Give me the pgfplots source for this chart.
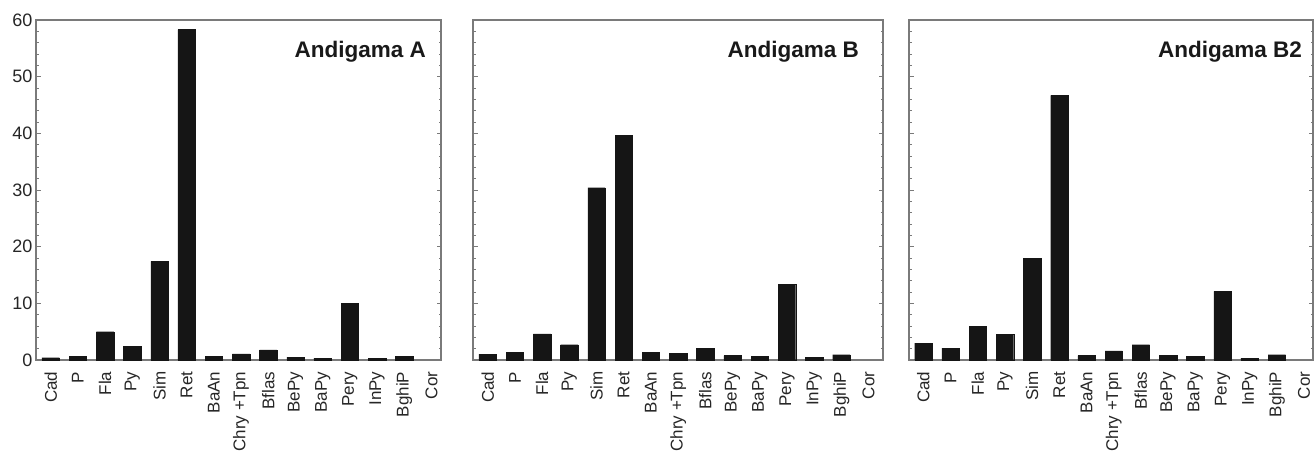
\documentclass[border=0pt]{standalone}
\usepackage{fontspec}
\setmainfont{Liberation Sans}
\usepackage{pgfplots}
\pgfplotsset{compat=1.18}
\definecolor{barc}{HTML}{151515}
\definecolor{axc}{HTML}{7A7A7A}
\pgfplotsset{
  panel/.style={
    scale only axis, height=340pt,
    ymin=0, ymax=60, ytick={0,10,...,60}, minor y tick num=4,
    xtick={0,...,14},
    xticklabels={Cad,P,Fla,Py,Sim,Ret,BaAn,Chry +Tpn,Bflas,BePy,BaPy,Pery,InPy,BghiP,Cor},
    x tick label style={rotate=90, anchor=east, inner sep=0pt, font=\fontsize{17}{19}\selectfont, text=black!85},
    xticklabel shift=7pt,
    y tick label style={font=\fontsize{18}{20}\selectfont, text=black!85},
    /pgf/number format/assume math mode=true,
    tick align=inside,
    axis line style={axc, line width=1.1pt},
    major tick length=4.5pt, minor tick length=2.5pt,
    every tick/.style={axc, line width=0.7pt},
    major x tick style={draw=none},
    ybar, bar width=0.64,
  },
}
\tikzset{
  ttl/.style={anchor=base east, inner sep=0pt, font=\bfseries\fontsize{22.5}{24}\selectfont, text=black!90},
  bars/.style={fill=barc, draw=barc, line width=0.3pt},
}
\begin{document}
\begin{tikzpicture}
\path[use as bounding box] (0pt,0pt) rectangle (1314pt,-461pt);
% Panel A
\begin{axis}[panel, at={(36pt,-360pt)}, anchor=south west, width=405pt, xmin=-0.54, xmax=14.35]
\addplot[bars] coordinates {(0,0.4) (1,0.65) (2,5.0) (3,2.4) (4,17.4) (5,58.3) (6,0.7) (7,1.1) (8,1.8) (9,0.5) (10,0.35) (11,10.0) (12,0.25) (13,0.65)};
\node[ttl, xshift=-15pt, yshift=-37pt] at (rel axis cs:1,1) {Andigama A};
\end{axis}
% Panel B
\begin{axis}[panel, at={(473pt,-360pt)}, anchor=south west, width=410pt, xmin=-0.54, xmax=14.53, yticklabels={}]
\addplot[bars] coordinates {(0,1.06) (1,1.3) (2,4.6) (3,2.7) (4,30.4) (5,39.7) (6,1.3) (7,1.2) (8,2.1) (9,0.77) (10,0.65) (11,13.3) (12,0.47) (13,0.94)};
\node[ttl, xshift=-24pt, yshift=-37pt] at (rel axis cs:1,1) {Andigama B};
\end{axis}
% Panel C
\begin{axis}[panel, at={(909pt,-360pt)}, anchor=south west, width=404pt, xmin=-0.53, xmax=14.33, yticklabels={}]
\addplot[bars] coordinates {(0,3.0) (1,2.1) (2,5.95) (3,4.5) (4,18.0) (5,46.7) (6,0.77) (7,1.6) (8,2.7) (9,0.82) (10,0.65) (11,12.1) (12,0.35) (13,0.94)};
\node[ttl, xshift=-11pt, yshift=-37pt] at (rel axis cs:1,1) {Andigama B2};
\end{axis}
\end{tikzpicture}
\end{document}
